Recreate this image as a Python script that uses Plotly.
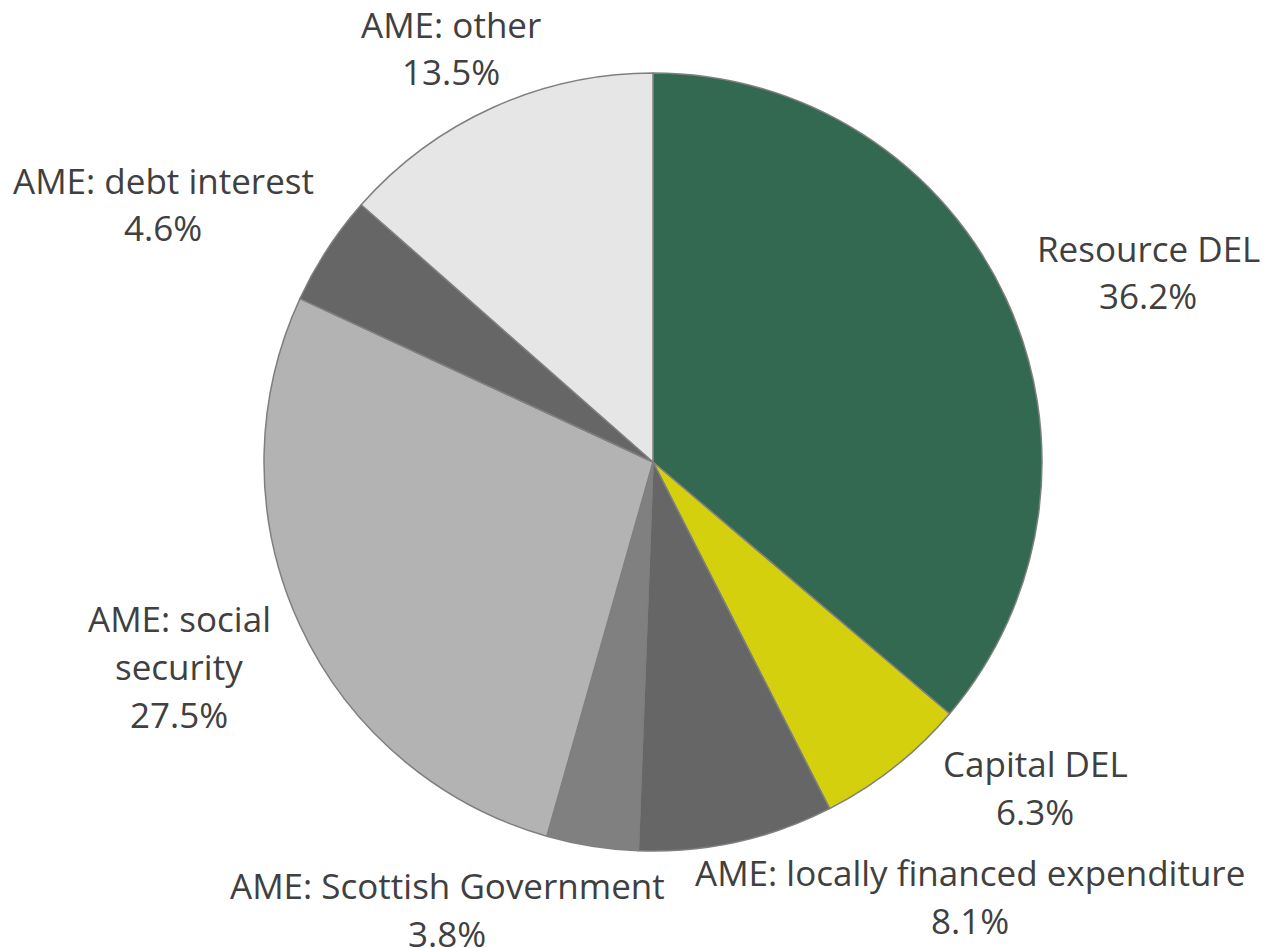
import plotly.graph_objects as go

# Spending shares by category (percent of total)
categories = [
    "Resource DEL",
    "Capital DEL",
    "AME: locally financed expenditure",
    "AME: Scottish Government",
    "AME: social security",
    "AME: debt interest",
    "AME: other",
]
shares = [36.2, 6.3, 8.1, 3.8, 27.5, 4.6, 13.5]

# Label text lines (category name split where it wraps)
label_lines = [
    ["Resource DEL"],
    ["Capital DEL"],
    ["AME: locally financed expenditure"],
    ["AME: Scottish Government"],
    ["AME: social", "security"],
    ["AME: debt interest"],
    ["AME: other"],
]

slice_colors = ["#336950", "#D4D00E", "#666666", "#808080", "#B3B3B3", "#666666", "#E6E6E6"]

# Label block centres in pixels of the 1263x948 canvas
W, H = 1263, 948
label_px = [
    (1148, 272),
    (1035, 787),
    (970, 896),
    (447, 909),
    (179, 666),
    (163, 204),
    (451, 48),
]
LINE_GAP = 48  # px between baselines of label lines

fig = go.Figure(
    go.Pie(
        labels=categories,
        values=shares,
        sort=False,
        direction="clockwise",
        rotation=0,
        textinfo="none",
        hoverinfo="skip",
        marker=dict(colors=slice_colors, line=dict(color="#7F7F7F", width=1.5)),
        domain=dict(x=[264 / W, 1042 / W], y=[1 - 852 / H, 1 - 72 / H]),
        showlegend=False,
    )
)

for lines, val, (px, py) in zip(label_lines, shares, label_px):
    rows = lines + [f"{val:.1f}%"]
    n = len(rows)
    for i, row in enumerate(rows):
        cy = py + (i - (n - 1) / 2) * LINE_GAP
        fig.add_annotation(
            x=px / W,
            y=1 - cy / H,
            xref="paper",
            yref="paper",
            xanchor="center",
            yanchor="middle",
            text=row,
            showarrow=False,
            font=dict(family="Open Sans", size=35, color="#404040"),
            align="center",
        )

fig.update_layout(
    width=W,
    height=H,
    margin=dict(l=0, r=0, t=0, b=0),
    paper_bgcolor="white",
    plot_bgcolor="white",
)

fig.write_html("out.html")
